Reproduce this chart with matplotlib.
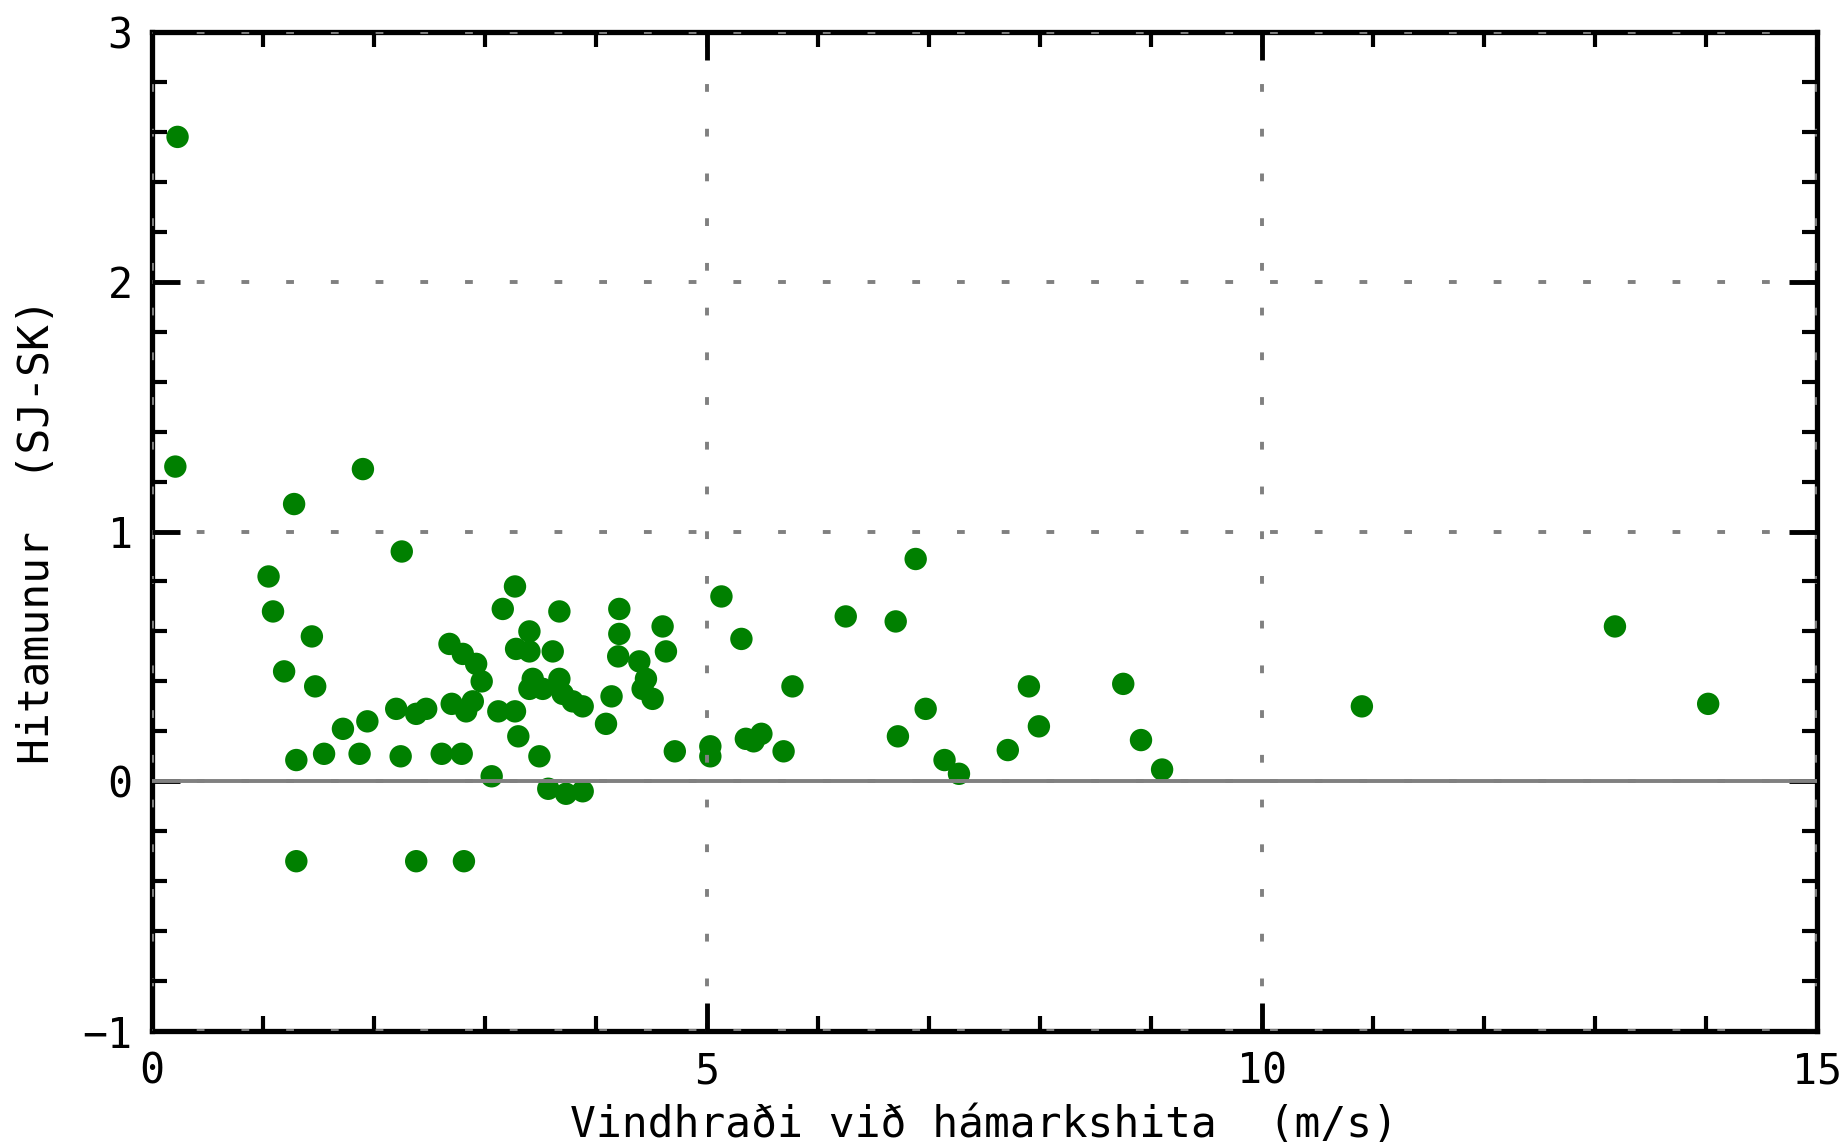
import matplotlib
matplotlib.use("Agg")
import matplotlib.pyplot as plt
from matplotlib.ticker import MultipleLocator

# Vindhraði við hámarkshita (m/s) og hitamunur (SJ-SK)
wind = [0.23, 0.21, 1.28, 1.90, 2.25, 1.05, 1.09, 1.44, 1.19, 1.47,
        1.30, 1.55, 1.72, 1.94, 1.87, 1.30, 2.38, 2.81, 2.24, 2.20,
        2.38, 2.47, 2.61, 2.79, 2.68, 2.80, 2.92, 2.97, 2.70, 2.89,
        2.83, 3.12, 3.27, 3.06, 3.16, 3.27, 3.30, 3.40, 3.28, 3.40,
        3.61, 3.67, 3.43, 3.40, 3.67, 3.52, 3.70, 3.79, 3.88, 3.49,
        3.57, 3.73, 3.88, 4.09, 4.14, 4.21, 4.21, 4.20, 4.39, 4.45,
        4.51, 4.42, 4.60, 4.63, 4.71, 5.03, 5.03, 5.13, 5.31, 5.35,
        5.42, 5.49, 5.69, 5.77, 6.25, 6.70, 6.88, 6.97, 6.72, 7.14,
        7.27, 7.71, 7.90, 7.99, 8.75, 8.91, 9.10, 10.90, 13.18, 14.02]
diff = [2.58, 1.26, 1.11, 1.25, 0.92, 0.82, 0.68, 0.58, 0.44, 0.38,
        0.085, 0.11, 0.21, 0.24, 0.11, -0.32, -0.32, -0.32, 0.10, 0.29,
        0.27, 0.29, 0.11, 0.11, 0.55, 0.51, 0.47, 0.40, 0.31, 0.32,
        0.28, 0.28, 0.28, 0.02, 0.69, 0.78, 0.18, 0.60, 0.53, 0.52,
        0.52, 0.68, 0.41, 0.37, 0.41, 0.37, 0.35, 0.32, 0.30, 0.10,
        -0.03, -0.05, -0.04, 0.23, 0.34, 0.69, 0.59, 0.50, 0.48, 0.41,
        0.33, 0.37, 0.62, 0.52, 0.12, 0.14, 0.10, 0.74, 0.57, 0.17,
        0.16, 0.19, 0.12, 0.38, 0.66, 0.64, 0.89, 0.29, 0.18, 0.085,
        0.03, 0.125, 0.38, 0.22, 0.39, 0.165, 0.047, 0.30, 0.62, 0.31]

plt.rcParams['font.family'] = ['DejaVu Sans Mono']

fig = plt.figure(figsize=(18.45, 11.47), dpi=100, facecolor='white')
ax = fig.add_axes([0.0824, 0.1011, 0.9024, 0.8710])

ax.scatter(wind, diff, s=260, color='#008000', edgecolors='none', zorder=2)

# zero line drawn over the points
ax.axhline(0, color='#808080', lw=2.8, zorder=3)

ax.set_xlim(0, 15)
ax.set_ylim(-1, 3)
ax.xaxis.set_major_locator(MultipleLocator(5))
ax.xaxis.set_minor_locator(MultipleLocator(1))
ax.yaxis.set_major_locator(MultipleLocator(1))
ax.yaxis.set_minor_locator(MultipleLocator(0.2))

ax.grid(True, which='major', color='#808080', lw=2.8,
        linestyle=(0, (2, 9.5)), zorder=3)
ax.set_axisbelow(False)

ax.tick_params(which='both', direction='in', top=True, right=True,
               color='black', labelsize=30)
ax.tick_params(which='major', length=20, width=3.5, pad=14)
ax.tick_params(which='minor', length=11, width=3)
for sp in ax.spines.values():
    sp.set_linewidth(3.8)
    sp.set_color('black')

ax.set_xlabel('Vindhraði við hámarkshita  (m/s)', fontsize=31, labelpad=8)
ax.set_ylabel('Hitamunur  (SJ-SK)', fontsize=31, labelpad=18)

fig.savefig('out.png', dpi=100, facecolor='white')
